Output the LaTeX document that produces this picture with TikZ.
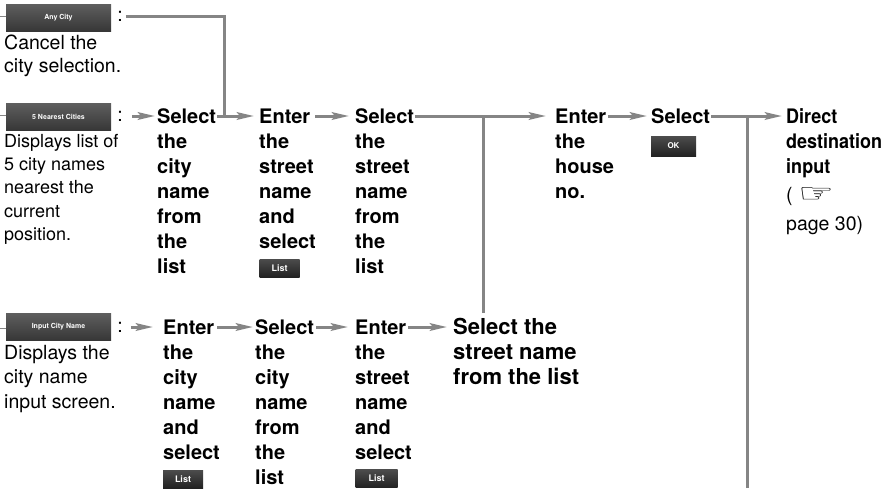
\documentclass[tikz,border=0pt]{standalone}
\usepackage{graphicx}
\usepackage{fontspec}
\setmainfont{TeX Gyre Heros}
\newfontfamily\handfont{DejaVu Sans}
\usetikzlibrary{arrows.meta}
\definecolor{linegray}{HTML}{858585}
\definecolor{btntop}{HTML}{5E5E5E}
\definecolor{btnbot}{HTML}{363636}
\definecolor{smalltop}{HTML}{4C4C4C}
\definecolor{smallbot}{HTML}{222222}
\newcommand{\firstln}{\rule{0pt}{16pt}}
\begin{document}
\begin{tikzpicture}[x=1pt,y=-1pt,
  conn/.style={draw=linegray,line width=3pt},
  arr/.style={conn,-{Stealth[length=17pt,width=7.5pt,inset=3pt]},shorten <=2pt,shorten >=5pt},
  head/.style={anchor=base west,inner sep=0pt,text height=14pt,text depth=0pt,font=\fontsize{20}{25}\selectfont\bfseries},
  body/.style={anchor=north west,inner sep=0pt,align=left,font=\fontsize{20}{25}\selectfont\bfseries},
  desc/.style={anchor=north west,inner sep=0pt,align=left},
  bigbtn/.style={top color=btntop,bottom color=btnbot,text=white,inner sep=0pt,minimum width=105pt,minimum height=27pt,font=\fontsize{7}{8}\selectfont\bfseries},
  smallbtn/.style={top color=smalltop,bottom color=smallbot,text=white,inner sep=0pt,minimum width=40pt,minimum height=18pt,font=\fontsize{9}{10}\selectfont\bfseries},
  colon/.style={inner sep=0pt,font=\fontsize{19.5}{20}\selectfont},
  stub/.style={draw=linegray,line width=1pt},
  reg/.style={anchor=base west,inner sep=0pt,font=\fontsize{19.5}{20}\selectfont}
]
\useasboundingbox (0,0) rectangle (887,488);

% left column
\node[bigbtn] (b1) at (58.5,18) {Any City};
\node[bigbtn] (b2) at (58.5,117) {5 Nearest Cities};
\node[bigbtn] (b3) at (58.5,327) {Input City Name};
\coordinate (t1) at (0,16);
\coordinate (t2) at (0,115);
\coordinate (t3) at (0,328);
\draw[stub] (t1) -- (b1.west |- t1);
\draw[stub] (t2) -- (b2.west |- t2);
\draw[stub] (t3) -- (b3.west |- t3);

\node[colon] (c1) at (120,16) {:};
\node[colon] (c2) at (120,116) {:};
\node[colon] (c3) at (120,327) {:};

\node[desc,font=\fontsize{19.5}{23}\selectfont] (d1) at (4,33) {\firstln Cancel the\\city selection.};
\node[desc,font=\fontsize{18}{23.3}\selectfont] (d2) at (4,131) {\firstln Displays list of\\5 city names\\nearest the\\current\\position.};
\node[desc,font=\fontsize{19.5}{24.5}\selectfont] (d3) at (4,343) {\firstln Displays the\\city name\\input screen.};

% top row
\node[head] (s1h) at (157,123) {Select};
\node[body] (s1b) at (157,132) {\firstln the\\city\\name\\from\\the\\list};
\node[head] (e2h) at (259,123) {Enter};
\node[body] (e2b) at (259,132) {\firstln the\\street\\name\\and\\select};
\node[smallbtn] (l1) at (279.5,268) {List};
\node[head] (s3h) at (355,123) {Select};
\node[body] (s3b) at (355,132) {\firstln the\\street\\name\\from\\the\\list};
\node[head] (e4h) at (555,123) {Enter};
\node[body] (e4b) at (555,132) {\firstln the\\house\\no.};
\node[head] (s5h) at (651,123) {Select};
\node[smallbtn,minimum width=45pt,minimum height=20pt,font=\fontsize{8}{9}\selectfont\bfseries] (ok) at (673.5,146) {OK};
\node[head] (d6h) at (786,123) {\scalebox{0.9}[1]{Direct}};
\node[body] (d6b) at (786,132) {\firstln\scalebox{0.9}[1]{destination}\\\scalebox{0.9}[1]{input}};
\node[reg] (d6c) at (786,201) {( \raisebox{-1.5pt}{\resizebox{36pt}{15pt}{\handfont ☞}}};
\node[reg] (d6d) at (786,230) {page 30)};

% bottom row
\node[head] (e1h) at (163,334) {Enter};
\node[body] (e1b) at (163,343) {\firstln the\\city\\name\\and\\select};
\node[smallbtn] (l2) at (183,479) {List};
\node[head] (s2h) at (255,334) {Select};
\node[body] (s2b) at (255,343) {\firstln the\\city\\name\\from\\the\\list};
\node[head] (e3h) at (355,334) {Enter};
\node[body] (e3b) at (355,343) {\firstln the\\street\\name\\and\\select};
\node[smallbtn,minimum width=42pt] (l3) at (376.5,478.5) {List};
\node[head,font=\fontsize{22}{25}\selectfont\bfseries] (s4h) at (453,334) {Select the};
\node[body,font=\fontsize{22}{25}\selectfont\bfseries] (s4b) at (453,343) {\firstln street name\\from the list};

% junction coordinates
\coordinate (j1) at (224,116);
\coordinate (j2) at (483,116);
\coordinate (j3) at (747,116);
\coordinate (v2) at (483,313);
\coordinate (v3) at (747,488);

% connectors
\draw[conn,shorten <=3pt] (c1) -| (j1);
\draw[arr,shorten <=9pt,shorten >=2pt] (c2) -- (s1h);
\draw[arr,shorten <=1pt,shorten >=5pt] (s1h) -- (e2h);
\draw[arr,shorten <=5pt,shorten >=6pt] (e2h) -- (s3h);
\draw[arr,shorten <=1pt,shorten >=9pt] (s3h) -- (e4h);
\draw[conn] (v2) -- (j2);
\draw[arr,shorten <=2pt,shorten >=4pt] (e4h) -- (s5h);
\draw[arr,shorten <=1pt,shorten >=4pt] (s5h) -- (d6h);
\draw[conn] (v3) -- (j3);
\draw[arr,shorten <=8pt,shorten >=10pt] (c3) -- (e1h);
\draw[arr,shorten <=3pt,shorten >=2pt] (e1h) -- (s2h);
\draw[arr,shorten <=2pt,shorten >=7pt] (s2h) -- (e3h);
\draw[arr,shorten <=2pt,shorten >=6pt] (e3h) -- (s4h);
\end{tikzpicture}
\end{document}
